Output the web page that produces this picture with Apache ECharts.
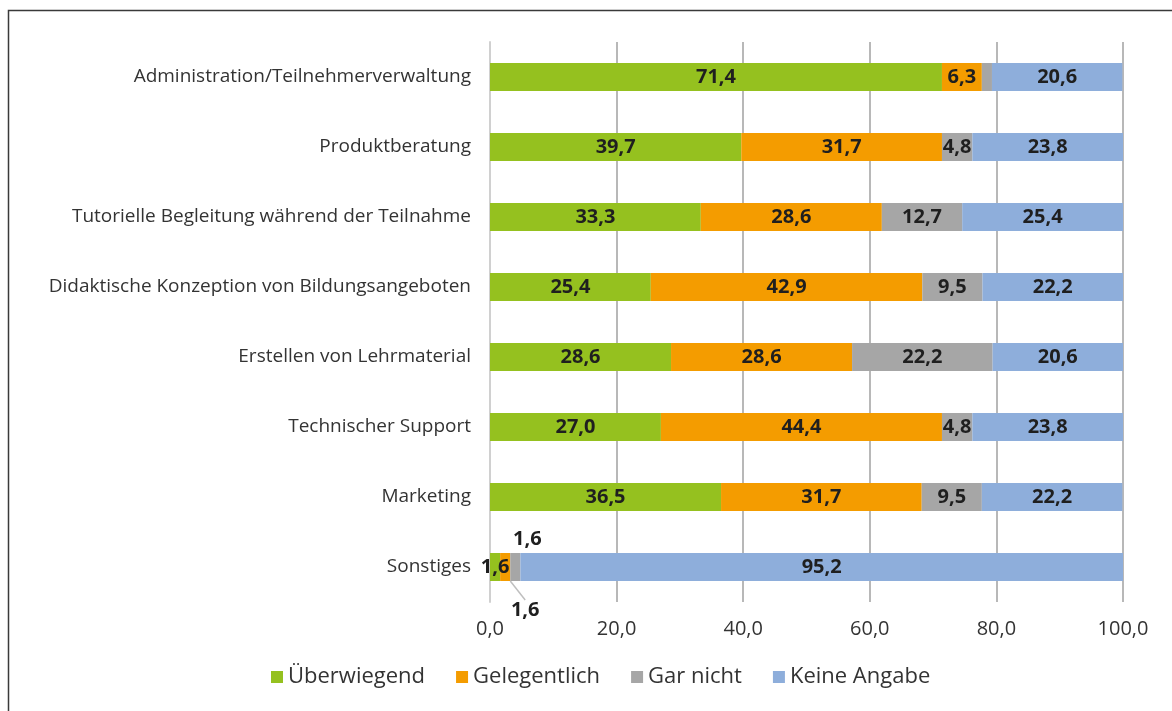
<!DOCTYPE html>
<html>
<head>
<meta charset="utf-8">
<script src="https://cdn.jsdelivr.net/npm/echarts@6/dist/echarts.min.js"></script>
<style>html,body{margin:0;padding:0;background:#fff}#c{width:1172px;height:711px}</style>
</head>
<body>
<div id="c"></div>
<script>
const categories = [
  'Administration/Teilnehmerverwaltung',
  'Produktberatung',
  'Tutorielle Begleitung während der Teilnahme',
  'Didaktische Konzeption von Bildungsangeboten',
  'Erstellen von Lehrmaterial',
  'Technischer Support',
  'Marketing',
  'Sonstiges'
];
const seriesNames = ['Überwiegend', 'Gelegentlich', 'Gar nicht', 'Keine Angabe'];
const ueberwiegend = [71.4, 39.7, 33.3, 25.4, 28.6, 27.0, 36.5, 1.6];
const gelegentlich = [6.3, 31.7, 28.6, 42.9, 28.6, 44.4, 31.7, 1.6];
const garNicht = [1.6, 4.8, 12.7, 9.5, 22.2, 4.8, 9.5, 1.6];
const keineAngabe = [20.6, 23.8, 25.4, 22.2, 20.6, 23.8, 22.2, 95.2];
const xTicks = [0, 20, 40, 60, 80, 100];

const colors = ['#95c11f', '#f49c00', '#a6a6a6', '#8eaedb'];
const fontFam = '"Open Sans", "Noto Sans", sans-serif';
const fmt = v => Number(v).toFixed(1).replace('.', ',');

function makeSeries(name, values, idx) {
  return {
    name: name,
    type: 'bar',
    stack: 'total',
    barWidth: 28,
    itemStyle: { color: colors[idx] },
    label: {
      show: true,
      position: 'inside',
      formatter: p => fmt(p.value),
      fontFamily: fontFam,
      fontWeight: 'bold',
      fontSize: 20,
      color: '#1f1f1f'
    },
    data: values.map((v, i) => {
      // Gar nicht for Administration has no label in the original
      if (idx === 2 && i === 0) return { value: v, label: { show: false } };
      return v;
    }),
    labelLine: { show: idx === 1, lineStyle: { color: '#bfbfbf', width: 1.5 } },
    labelLayout: function (p) {
      if (p.dataIndex !== categories.length - 1) return {};
      if (idx === 1) return { dx: 20, dy: 43 };
      if (idx === 2) return { dx: 12, dy: -28 };
      return {};
    }
  };
}

const chart = echarts.init(document.getElementById('c'));
chart.setOption({
  animation: false,
  color: colors,
  graphic: [{
    type: 'rect',
    shape: { x: 8.5, y: 10.5, width: 1200, height: 800 },
    style: { fill: 'none', stroke: '#3a3a3a', lineWidth: 1.5 },
    silent: true, z: -1
  }],
  grid: { left: 490, right: 49, top: 42, bottom: 109 },
  legend: {
    data: seriesNames,
    left: 266,
    top: 661,
    icon: 'rect',
    itemWidth: 12,
    itemHeight: 12,
    itemGap: 31,
    textStyle: { fontFamily: fontFam, fontSize: 22, color: '#333' }
  },
  xAxis: {
    type: 'value',
    min: xTicks[0],
    max: xTicks[xTicks.length - 1],
    interval: 20,
    axisLine: { show: false },
    axisTick: { show: false },
    splitLine: { lineStyle: { color: '#b8b8b8', width: 2 } },
    axisLabel: {
      formatter: v => fmt(v),
      fontFamily: fontFam, fontSize: 20, color: '#333', margin: 17
    }
  },
  yAxis: {
    type: 'category',
    data: categories,
    inverse: true,
    axisLine: { show: true, lineStyle: { color: '#d0d0d0', width: 2 } },
    axisTick: { show: false },
    axisLabel: { fontFamily: fontFam, fontSize: 19, color: '#333', margin: 19 }
  },
  series: [
    makeSeries(seriesNames[0], ueberwiegend, 0),
    makeSeries(seriesNames[1], gelegentlich, 1),
    makeSeries(seriesNames[2], garNicht, 2),
    makeSeries(seriesNames[3], keineAngabe, 3)
  ]
});
</script>
</body>
</html>
